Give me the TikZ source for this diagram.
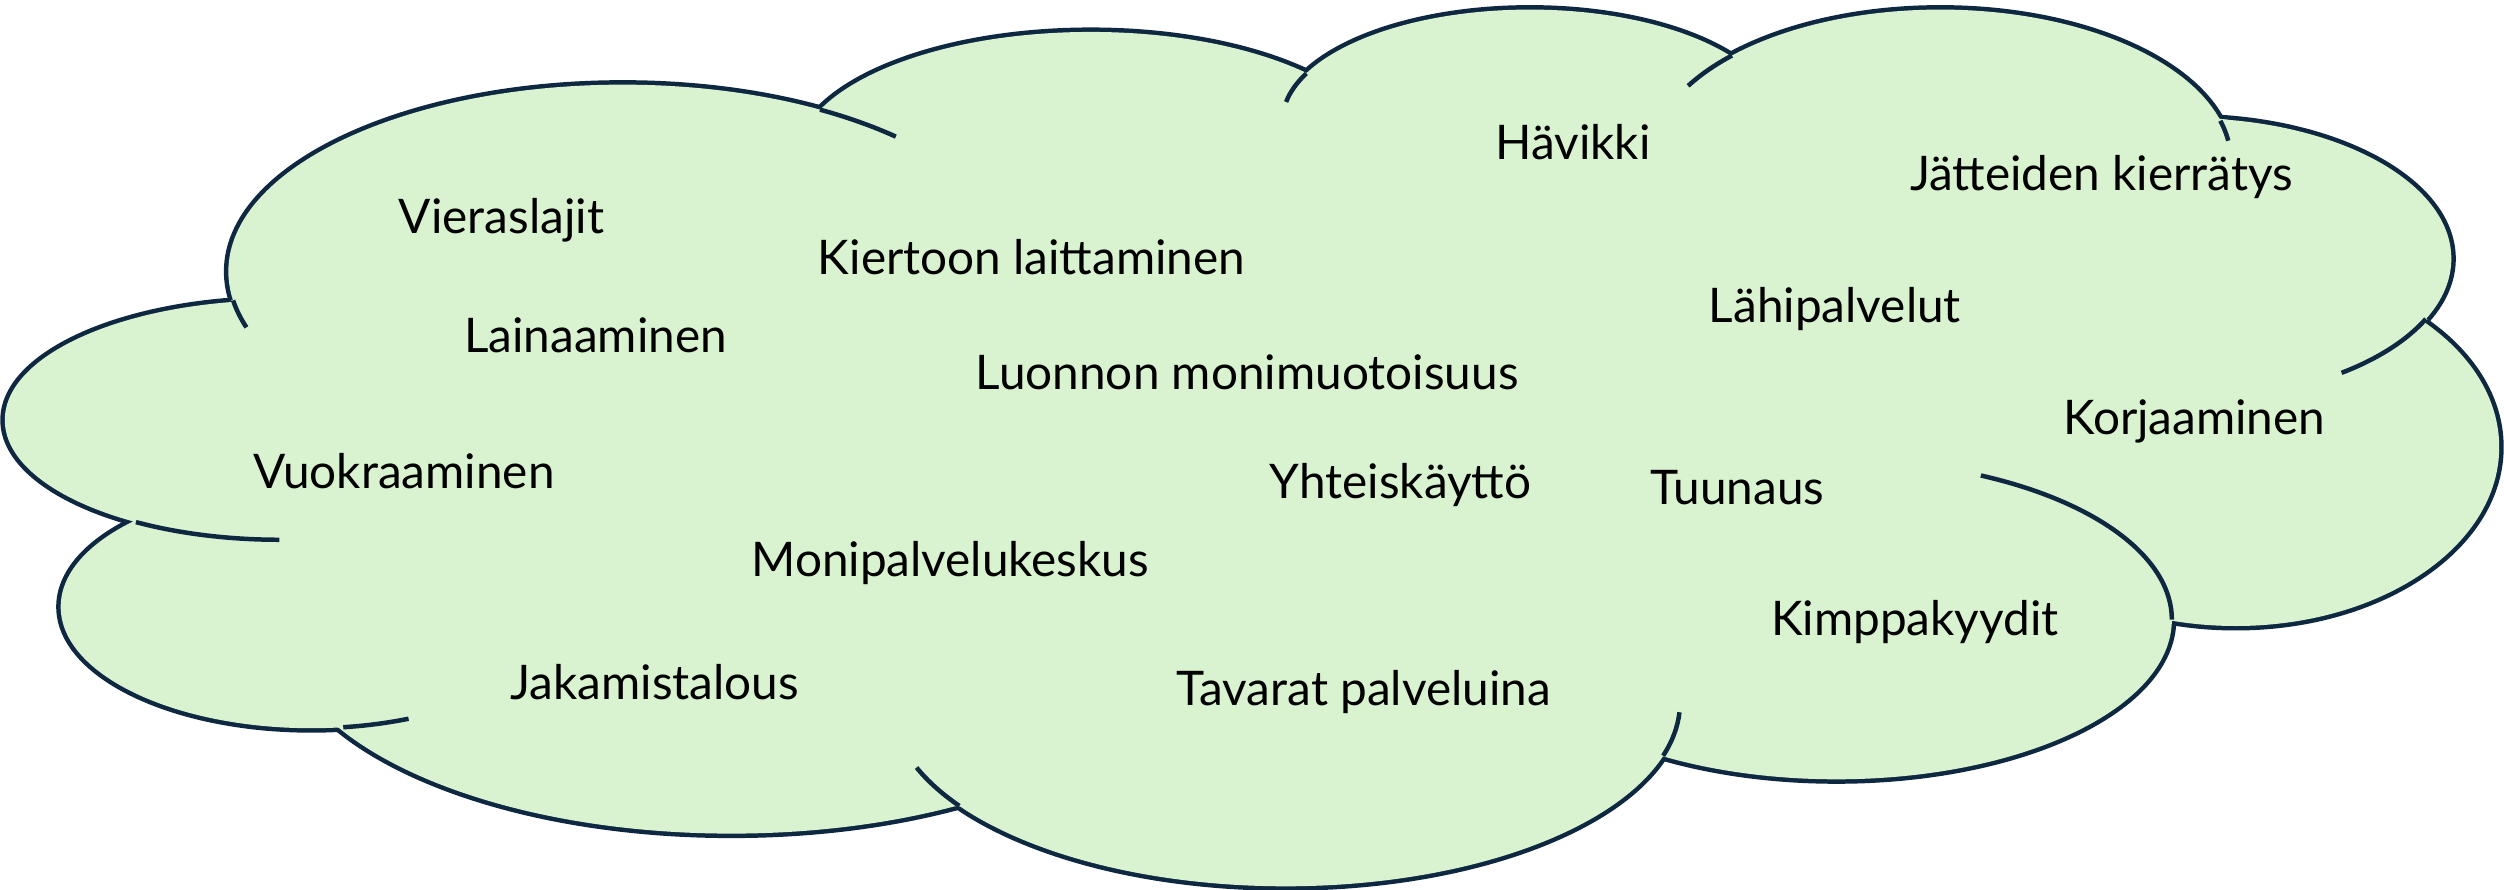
\documentclass[tikz,border=0pt]{standalone}
\usepackage{fontspec}
\setmainfont{Lato}
\definecolor{cloudfill}{HTML}{D9F2D0}
\definecolor{cloudline}{HTML}{0E2841}
\tikzset{
  lobe/.style={draw=cloudline, line width=3.2pt},
  ear/.style={draw=cloudline, line width=1.6pt},
  term/.style={font=\fontsize{17}{20}\selectfont, inner sep=0pt, anchor=base}
}

\begin{document}
\begin{tikzpicture}[x=0.02cm, y=-0.02cm]
    \useasboundingbox (0,0) rectangle (1568,557);

    \coordinate (lobeA) at (175,263);
    \coordinate (lobeB) at (390,170);
    \coordinate (lobeC) at (683,100);
    \coordinate (lobeD) at (958,76);
    \coordinate (lobeE) at (1215,101);
    \coordinate (lobeF) at (1370,162);
    \coordinate (lobeG) at (1400,280);
    \coordinate (lobeH) at (1150,388);
    \coordinate (lobeI) at (805,440);
    \coordinate (lobeJ) at (458,392);
    \coordinate (lobeK) at (195,380);

    % outline: thick strokes, inner half covered by the fill below
    \draw[lobe] (lobeA) ellipse [x radius=172, y radius=75];
    \draw[lobe] (lobeB) ellipse [x radius=247, y radius=117];
    \draw[lobe] (lobeC) ellipse [x radius=184, y radius=80];
    \draw[lobe] (lobeD) ellipse [x radius=155, y radius=70];
    \draw[lobe] (lobeE) ellipse [x radius=182, y radius=95];
    \draw[lobe] (lobeF) ellipse [x radius=165, y radius=88];
    \draw[lobe] (lobeG) ellipse [x radius=165, y radius=112];
    \draw[lobe] (lobeH) ellipse [x radius=210, y radius=100];
    \draw[lobe] (lobeI) ellipse [x radius=247, y radius=115];
    \draw[lobe] (lobeJ) ellipse [x radius=282, y radius=130];
    \draw[lobe] (lobeK) ellipse [x radius=157, y radius=76];

    \fill[cloudfill] (lobeA) ellipse [x radius=172, y radius=75];
    \fill[cloudfill] (lobeB) ellipse [x radius=247, y radius=117];
    \fill[cloudfill] (lobeC) ellipse [x radius=184, y radius=80];
    \fill[cloudfill] (lobeD) ellipse [x radius=155, y radius=70];
    \fill[cloudfill] (lobeE) ellipse [x radius=182, y radius=95];
    \fill[cloudfill] (lobeF) ellipse [x radius=165, y radius=88];
    \fill[cloudfill] (lobeG) ellipse [x radius=165, y radius=112];
    \fill[cloudfill] (lobeH) ellipse [x radius=210, y radius=100];
    \fill[cloudfill] (lobeI) ellipse [x radius=247, y radius=115];
    \fill[cloudfill] (lobeJ) ellipse [x radius=282, y radius=130];
    \fill[cloudfill] (lobeK) ellipse [x radius=157, y radius=76];
    \fill[cloudfill] (145,188) -- (512,70) -- (818,46) -- (1085,35) -- (1395,75) -- (1520,200)
        -- (1360,388) -- (1040,473) -- (600,505) -- (215,455) -- (83,327) -- cycle;

    % inner ends of the lobes
    \draw[ear] (lobeB) ++(171.1:247 and 117) arc[start angle=171.1, end angle=162.6, x radius=247, y radius=117];
    \draw[ear] (lobeB) ++(-60:247 and 117) arc[start angle=-60, end angle=-46.2, x radius=247, y radius=117];
    \draw[ear] (lobeD) ++(-154.6:155 and 70) arc[start angle=-154.6, end angle=-170, x radius=155, y radius=70];
    \draw[ear] (lobeE) ++(-135.8:182 and 95) arc[start angle=-135.8, end angle=-150.2, x radius=182, y radius=95];
    \draw[ear] (lobeE) ++(-15.5:182 and 95) arc[start angle=-15.5, end angle=-7.8, x radius=182, y radius=95];
    \draw[ear] (lobeF) ++(25.4:165 and 88) arc[start angle=25.4, end angle=54.3, x radius=165, y radius=88];
    \draw[ear] (lobeH) ++(-64.5:210 and 100) arc[start angle=-64.5, end angle=0, x radius=210, y radius=100];
    \draw[ear] (lobeI) ++(145.8:247 and 115) arc[start angle=145.8, end angle=159.3, x radius=247, y radius=115];
    \draw[ear] (lobeI) ++(16.8:247 and 115) arc[start angle=16.8, end angle=3, x radius=247, y radius=115];
    \draw[ear] (lobeK) ++(82.7:157 and 76) arc[start angle=82.7, end angle=67.2, x radius=157, y radius=76];
    \draw[ear] (lobeA) ++(121.5:172 and 75) arc[start angle=121.5, end angle=90, x radius=172, y radius=75];

    \node[term] (vieras) at (314,146) {Vieraslajit};
    \node[term] (kierto) at (646,172) {Kiertoon laittaminen};
    \node[term] (laina) at (373,221) {Lainaaminen};
    \node[term] (luonto) at (781,244) {Luonnon monimuotoisuus};
    \node[term] (vuokra) at (253,306) {Vuokraaminen};
    \node[term] (moni) at (595,361) {Monipalvelukeskus};
    \node[term] (jakamis) at (410,438) {Jakamistalous};
    \node[term] (tavarat) at (854,442) {Tavarat palveluina};
    \node[term] (yhteis) at (877,312) {Yhteiskäyttö};
    \node[term] (tuunaus) at (1088,316) {Tuunaus};
    \node[term] (havikki) at (985,100) {Hävikki};
    \node[term] (jatteet) at (1316,119) {Jätteiden kierrätys};
    \node[term] (lahi) at (1149,202) {Lähipalvelut};
    \node[term] (korjaus) at (1374,272) {Korjaaminen};
    \node[term] (kimppa) at (1199,398) {Kimppakyydit};
\end{tikzpicture}
\end{document}
